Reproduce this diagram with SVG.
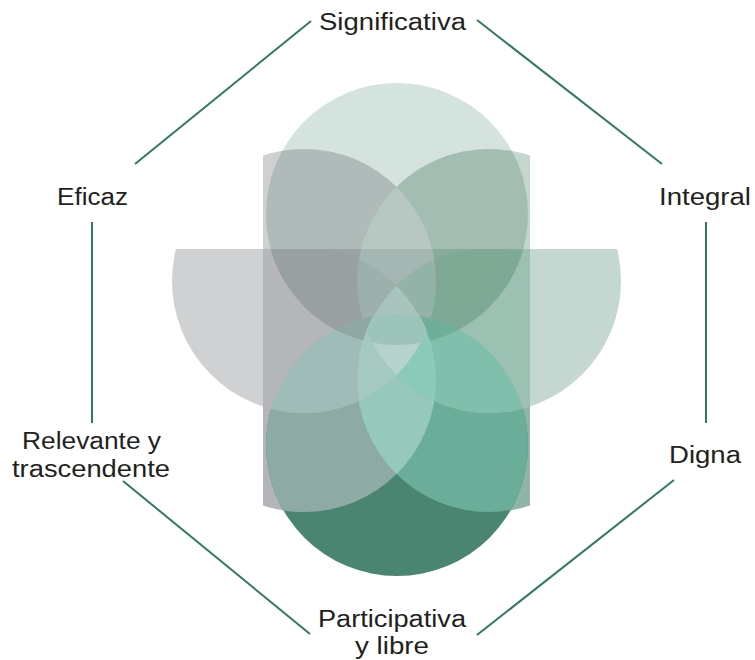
<svg xmlns="http://www.w3.org/2000/svg" width="755" height="660" viewBox="0 0 755 660">
<style>
.lbl{font-family:"Liberation Sans","Open Sans",sans-serif;font-size:23px;fill:#231f20;text-anchor:middle}
.edge{stroke:#2e7a62;stroke-width:2;fill:none;stroke-linecap:butt}
</style>
<defs>
<clipPath id="cT"><circle cx="397" cy="214" r="131"/></clipPath>
<clipPath id="cUL"><circle cx="304" cy="281" r="132"/></clipPath>
<clipPath id="cUR"><circle cx="489" cy="281" r="132"/></clipPath>
<clipPath id="cLL"><circle cx="304" cy="380" r="132"/></clipPath>
<clipPath id="cLR"><circle cx="489" cy="380" r="132"/></clipPath>
<clipPath id="cB"><circle cx="397" cy="445" r="131"/></clipPath>
<clipPath id="cH"><rect x="0" y="249" width="755" height="411"/></clipPath>
<clipPath id="cR"><rect x="263" y="0" width="267" height="660"/></clipPath>
</defs>
<rect width="755" height="660" fill="#ffffff"/>
<g id="flower">
<circle cx="304" cy="281" r="132" fill="#d0d1d3" clip-path="url(#cH)"/>
<circle cx="489" cy="281" r="132" fill="#c4d7d0" clip-path="url(#cH)"/>
<g clip-path="url(#cR)">
<circle cx="397" cy="214" r="131" fill="#d5e3de"/>
<circle cx="304" cy="281" r="132" fill="#cfd0d2"/>
<circle cx="489" cy="281" r="132" fill="#c5d6cf"/>
<circle cx="304" cy="380" r="132" fill="#b3b4b8"/>
<circle cx="489" cy="380" r="132" fill="#8fb5a6"/>
<circle cx="397" cy="445" r="131" fill="#4a8572"/>
<g clip-path="url(#cT)"><circle cx="304" cy="281" r="132" fill="#b0bab8"/></g>
<g clip-path="url(#cT)"><circle cx="489" cy="281" r="132" fill="#a3bdb2"/></g>
<g clip-path="url(#cH)"><circle cx="304" cy="281" r="132" fill="#b5b6ba"/></g>
<g clip-path="url(#cH)"><circle cx="489" cy="281" r="132" fill="#9cc0b2"/></g>
<g clip-path="url(#cB)"><circle cx="304" cy="380" r="132" fill="#8eaaa5"/></g>
<g clip-path="url(#cB)"><circle cx="489" cy="380" r="132" fill="#6aae99"/></g>
<g clip-path="url(#cT)"><g clip-path="url(#cUL)"><circle cx="489" cy="281" r="132" fill="#b7c7c1"/></g></g>
<g clip-path="url(#cH)"><g clip-path="url(#cUL)"><circle cx="304" cy="380" r="132" fill="#b5b6ba"/></g></g>
<g clip-path="url(#cH)"><g clip-path="url(#cUR)"><circle cx="489" cy="380" r="132" fill="#9cc0b2"/></g></g>
<g clip-path="url(#cH)"><g clip-path="url(#cT)"><circle cx="304" cy="281" r="132" fill="#9aa3a3"/></g></g>
<g clip-path="url(#cH)"><g clip-path="url(#cT)"><circle cx="489" cy="281" r="132" fill="#85ac9c"/></g></g>
<g clip-path="url(#cB)"><g clip-path="url(#cLL)"><circle cx="489" cy="380" r="132" fill="#96c8bc"/></g></g>
<g clip-path="url(#cH)"><g clip-path="url(#cT)"><g clip-path="url(#cUL)"><circle cx="489" cy="281" r="132" fill="#a5b7b2"/></g></g></g>
<g clip-path="url(#cH)"><g clip-path="url(#cT)"><g clip-path="url(#cUL)"><circle cx="304" cy="380" r="132" fill="#98a0a1"/></g></g></g>
<g clip-path="url(#cH)"><g clip-path="url(#cT)"><g clip-path="url(#cUR)"><circle cx="489" cy="380" r="132" fill="#7ea995"/></g></g></g>
<g clip-path="url(#cH)"><g clip-path="url(#cB)"><g clip-path="url(#cUL)"><circle cx="304" cy="380" r="132" fill="#a0bcb8"/></g></g></g>
<g clip-path="url(#cH)"><g clip-path="url(#cB)"><g clip-path="url(#cUR)"><circle cx="489" cy="380" r="132" fill="#80bfab"/></g></g></g>
<g clip-path="url(#cH)"><g clip-path="url(#cT)"><g clip-path="url(#cUL)"><g clip-path="url(#cUR)"><circle cx="304" cy="380" r="132" fill="#9db0ac"/></g></g></g></g>
<g clip-path="url(#cH)"><g clip-path="url(#cT)"><g clip-path="url(#cUL)"><g clip-path="url(#cUR)"><circle cx="489" cy="380" r="132" fill="#93b3a9"/></g></g></g></g>
<g clip-path="url(#cH)"><g clip-path="url(#cT)"><g clip-path="url(#cUL)"><g clip-path="url(#cB)"><circle cx="304" cy="380" r="132" fill="#8fa8a4"/></g></g></g></g>
<g clip-path="url(#cH)"><g clip-path="url(#cT)"><g clip-path="url(#cUR)"><g clip-path="url(#cB)"><circle cx="489" cy="380" r="132" fill="#6fae98"/></g></g></g></g>
<g clip-path="url(#cH)"><g clip-path="url(#cUL)"><g clip-path="url(#cB)"><g clip-path="url(#cLL)"><circle cx="489" cy="380" r="132" fill="#a5c8c1"/></g></g></g></g>
<g clip-path="url(#cH)"><g clip-path="url(#cUR)"><g clip-path="url(#cB)"><g clip-path="url(#cLL)"><circle cx="489" cy="380" r="132" fill="#8ccab8"/></g></g></g></g>
<g clip-path="url(#cH)"><g clip-path="url(#cT)"><g clip-path="url(#cUL)"><g clip-path="url(#cUR)"><g clip-path="url(#cLL)"><circle cx="489" cy="380" r="132" fill="#a9c3bd"/></g></g></g></g></g>
<g clip-path="url(#cH)"><g clip-path="url(#cB)"><g clip-path="url(#cUL)"><g clip-path="url(#cUR)"><g clip-path="url(#cLL)"><circle cx="489" cy="380" r="132" fill="#b5d2cc"/></g></g></g></g></g>
<g clip-path="url(#cH)"><g clip-path="url(#cB)"><g clip-path="url(#cT)"><g clip-path="url(#cUL)"><g clip-path="url(#cUR)"><g clip-path="url(#cLL)"><circle cx="489" cy="380" r="132" fill="#9cc4ba"/></g></g></g></g></g></g>
</g>
</g>
<g id="connectors">
<line class="edge" x1="311" y1="21" x2="135" y2="164"/>
<line class="edge" x1="477" y1="20" x2="662" y2="164"/>
<line class="edge" x1="92" y1="222" x2="92" y2="423"/>
<line class="edge" x1="706" y1="222" x2="706" y2="423"/>
<line class="edge" x1="123" y1="481" x2="310" y2="634"/>
<line class="edge" x1="674" y1="480" x2="477" y2="635"/>
</g>
<g id="node-significativa"><text class="lbl" x="392.5" y="30" textLength="147" lengthAdjust="spacingAndGlyphs">Significativa</text></g>
<g id="node-eficaz"><text class="lbl" x="92.5" y="205" textLength="71" lengthAdjust="spacingAndGlyphs">Eficaz</text></g>
<g id="node-integral"><text class="lbl" x="705" y="205" textLength="92" lengthAdjust="spacingAndGlyphs">Integral</text></g>
<g id="node-relevante"><text class="lbl"><tspan x="91.5" y="449" textLength="139" lengthAdjust="spacingAndGlyphs">Relevante y</tspan><tspan x="91" y="477" textLength="158" lengthAdjust="spacingAndGlyphs">trascendente</tspan></text></g>
<g id="node-digna"><text class="lbl" x="705" y="463" textLength="72" lengthAdjust="spacingAndGlyphs">Digna</text></g>
<g id="node-participativa"><text class="lbl"><tspan x="392" y="627" textLength="148" lengthAdjust="spacingAndGlyphs">Participativa</tspan><tspan x="392" y="654" textLength="74" lengthAdjust="spacingAndGlyphs">y libre</tspan></text></g>
</svg>
